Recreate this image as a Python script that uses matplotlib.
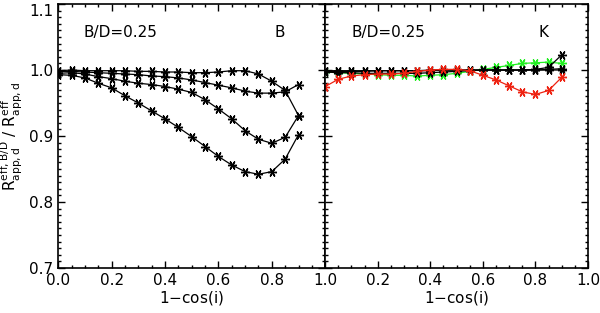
import matplotlib
matplotlib.use('Agg')
import matplotlib.pyplot as plt
from matplotlib.ticker import MultipleLocator
import numpy as np

# inclination grid, 1-cos(i)
x = [0.0, 0.05, 0.1, 0.15, 0.2, 0.25, 0.3, 0.35, 0.4, 0.45,
     0.5, 0.55, 0.6, 0.65, 0.7, 0.75, 0.8, 0.85, 0.9]

# B band, four curves
b_1 = [0.999, 1.000, 0.999, 0.999, 0.999, 0.999, 0.998, 0.998, 0.997, 0.997,
       0.996, 0.996, 0.997, 0.999, 0.999, 0.994, 0.983, 0.969, 0.931]
b_2 = [0.998, 0.998, 0.997, 0.996, 0.995, 0.994, 0.993, 0.991, 0.990, 0.988,
       0.985, 0.981, 0.977, 0.973, 0.968, 0.965, 0.965, 0.967, 0.978]
b_3 = [0.995, 0.996, 0.994, 0.990, 0.987, 0.983, 0.980, 0.978, 0.975, 0.971,
       0.966, 0.955, 0.941, 0.926, 0.908, 0.895, 0.889, 0.898, 0.931]
b_4 = [0.993, 0.992, 0.988, 0.980, 0.973, 0.961, 0.950, 0.938, 0.926, 0.913,
       0.899, 0.884, 0.869, 0.856, 0.846, 0.842, 0.846, 0.865, 0.902]

# K band
k_black1 = [0.998, 0.998, 0.998, 0.998, 0.999, 0.999, 0.999, 0.999, 0.999, 1.000,
            1.000, 1.000, 1.000, 1.000, 1.000, 1.000, 1.000, 1.001, 1.002]
k_black2 = [0.999, 0.999, 0.999, 0.999, 0.999, 0.999, 0.999, 0.999, 1.000, 1.000,
            1.000, 1.000, 1.000, 1.000, 1.000, 1.000, 1.001, 1.004, 1.023]
k_black3 = [0.997, 0.996, 0.996, 0.995, 0.995, 0.995, 0.995, 0.995, 0.996, 0.997,
            0.998, 0.999, 1.000, 1.000, 1.000, 1.000, 1.000, 1.000, 1.000]
k_green = [0.997, 0.996, 0.995, 0.994, 0.993, 0.992, 0.992, 0.991, 0.992, 0.993,
           0.995, 0.998, 1.001, 1.004, 1.007, 1.010, 1.011, 1.012, 1.010]
k_red = [0.975, 0.986, 0.991, 0.993, 0.994, 0.994, 0.995, 0.998, 1.000, 1.001,
         1.001, 0.999, 0.992, 0.985, 0.976, 0.967, 0.963, 0.969, 0.989]

xticks = [0.0, 0.2, 0.4, 0.6, 0.8, 1.0]
xlabels_left = ['0.0', '0.2', '0.4', '0.6', '0.8', '1.0']
xlabels_right = ['', '0.2', '0.4', '0.6', '0.8', '1.0']
yticks = [0.7, 0.8, 0.9, 1.0, 1.1]

plt.rcParams['font.family'] = 'DejaVu Sans'
fs = 11

fig = plt.figure(figsize=(6.0, 3.13), dpi=100)
ax1 = fig.add_axes([0.097, 0.144, 0.445, 0.843])
ax2 = fig.add_axes([0.542, 0.144, 0.438, 0.843])

star = (6, 2, 30)
style = dict(marker=star, markersize=6.5, linewidth=0.9, markeredgewidth=1.0)

for y in [b_1, b_2, b_3, b_4]:
    ax1.plot(x, y, color='black', **style)

ax2.plot(x, k_green, color='#22ee22', **style)
for y in [k_black3, k_black1, k_black2]:
    ax2.plot(x, y, color='black', **style)
ax2.plot(x, k_red, color='#ee2211', **style)

for ax in [ax1, ax2]:
    ax.set_xlim(0, 1.0)
    ax.set_ylim(0.7, 1.1)
    ax.set_xticks(xticks)
    ax.set_yticks(yticks)
    ax.xaxis.set_minor_locator(MultipleLocator(0.05))
    ax.yaxis.set_minor_locator(MultipleLocator(0.01))
    ax.tick_params(which='both', direction='in', top=True, right=True,
                   labelsize=fs, width=1.0, color='black')
    ax.tick_params(which='major', length=5)
    ax.tick_params(which='minor', length=2.5)
    for s in ax.spines.values():
        s.set_linewidth(1.2)
    ax.set_xlabel('1$-$cos(i)', fontsize=fs, labelpad=1)

ax1.set_xticklabels(xlabels_left)
ax2.set_xticklabels(xlabels_right)
ax1.set_yticklabels(['%.1f' % v for v in yticks])
ax1.get_yticklabels()[-1].set_va('top')
ax2.set_yticklabels([])

ax1.set_ylabel(r'$\mathrm{R^{eff,B/D}_{app,d}\ /\ R^{eff}_{app,d}}$', fontsize=fs)
ax1.yaxis.set_label_coords(-0.125, 0.5)

ax1.text(0.095, 1.057, 'B/D=0.25', fontsize=fs, va='center')
ax1.text(0.81, 1.057, 'B', fontsize=fs, va='center')
ax2.text(0.10, 1.057, 'B/D=0.25', fontsize=fs, va='center')
ax2.text(0.81, 1.057, 'K', fontsize=fs, va='center')

fig.savefig('out.png', dpi=100)
